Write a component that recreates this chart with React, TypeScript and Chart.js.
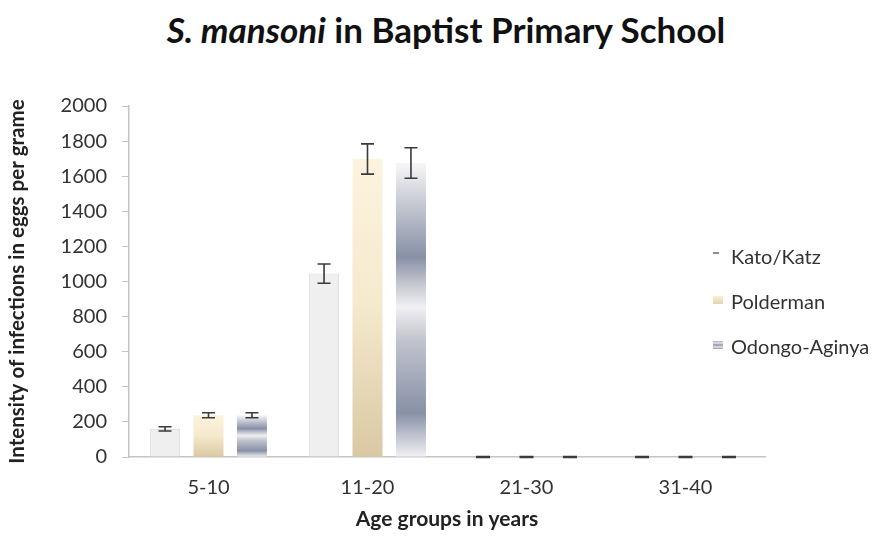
import React, { useEffect, useRef } from "react";
import { Chart, registerables } from "chart.js";

Chart.register(...registerables);

const categories = ["5-10", "11-20", "21-30", "31-40"];
const seriesNames = ["Kato/Katz", "Polderman", "Odongo-Aginya"];
const katoValues = [160, 1045, 0, 0];
const katoErrors = [12, 55, 0, 0];
const poldermanValues = [238, 1698, 0, 0];
const poldermanErrors = [14, 86, 0, 0];
const odongoValues = [238, 1675, 0, 0];
const odongoErrors = [14, 87, 0, 0];
const yTicks = [0, 200, 400, 600, 800, 1000, 1200, 1400, 1600, 1800, 2000];

const FONT = "Lato";
const TEXT = "#333333";

type Stop = [number, string];
const katoStops: Stop[] = [[0, "#efefef"], [1, "#efefef"]];
const poldermanStops: Stop[] = [
  [0, "#fdf3de"],
  [0.5, "#f5e9cd"],
  [1, "#d9c8a2"],
];
const odongoStops: Stop[] = [
  [0, "#f7f7f8"],
  [0.13, "#c9ccd5"],
  [0.32, "#8790a6"],
  [0.41, "#c3c6cf"],
  [0.49, "#f0f0f2"],
  [0.6, "#c2c5ce"],
  [0.85, "#8790a6"],
  [1, "#f2f2f4"],
];

function gradientFill(stops: Stop[], solid: string) {
  return (ctx: any) => {
    if (ctx.type !== "data") return solid;
    const chart = ctx.chart;
    if (!chart.chartArea) return solid;
    const v = ctx.raw as number;
    const y = chart.scales.y;
    const top = y.getPixelForValue(v);
    const bot = y.getPixelForValue(0);
    if (bot - top < 1) return solid;
    const g = chart.ctx.createLinearGradient(0, top, 0, bot);
    stops.forEach(([o, c]) => g.addColorStop(o, c));
    return g;
  };
}

const errorsBySeries = [katoErrors, poldermanErrors, odongoErrors];

const errorBarPlugin = {
  id: "errorBars",
  afterDatasetsDraw(chart: any) {
    const ctx = chart.ctx;
    const y = chart.scales.y;
    ctx.save();
    ctx.strokeStyle = "#3a3a3a";
    ctx.lineWidth = 1.6;
    chart.data.datasets.forEach((ds: any, di: number) => {
      const meta = chart.getDatasetMeta(di);
      meta.data.forEach((bar: any, i: number) => {
        const v = ds.data[i];
        const e = errorsBySeries[di][i];
        const x = bar.x;
        const hi = y.getPixelForValue(v + e);
        const lo = y.getPixelForValue(Math.max(0, v - e));
        const cap = 6.5;
        if (e === 0) {
          ctx.lineWidth = 2.5;
          ctx.beginPath();
          ctx.moveTo(x - 7, hi);
          ctx.lineTo(x + 7, hi);
          ctx.stroke();
          ctx.lineWidth = 1.6;
          return;
        }
        ctx.beginPath();
        ctx.moveTo(x, hi);
        ctx.lineTo(x, lo);
        ctx.moveTo(x - cap, hi);
        ctx.lineTo(x + cap, hi);
        ctx.moveTo(x - cap, lo);
        ctx.lineTo(x + cap, lo);
        ctx.stroke();
      });
    });
    ctx.restore();
  },
};

const legendPlugin = {
  id: "sideLegend",
  afterDraw(chart: any) {
    const ctx = chart.ctx;
    ctx.save();
    ctx.font = `20px ${FONT}`;
    ctx.fillStyle = TEXT;
    ctx.textBaseline = "middle";
    const ys = [258, 303, 348];
    const mx = 713;
    // Kato marker: short dash
    ctx.strokeStyle = "#444";
    ctx.lineWidth = 1.2;
    ctx.beginPath();
    ctx.moveTo(mx, ys[0] - 5);
    ctx.lineTo(mx + 6, ys[0] - 5);
    ctx.stroke();
    // Polderman marker
    const g1 = ctx.createLinearGradient(0, ys[1] - 7, 0, ys[1] + 1);
    g1.addColorStop(0, "#fbf0d6");
    g1.addColorStop(1, "#e3d4b0");
    ctx.fillStyle = g1;
    ctx.fillRect(mx, ys[1] - 7, 10, 8);
    // Odongo marker
    const g2 = ctx.createLinearGradient(0, ys[2] - 7, 0, ys[2] + 1);
    g2.addColorStop(0, "#a7adbd");
    g2.addColorStop(0.25, "#e6e7eb");
    g2.addColorStop(0.5, "#8d95a9");
    g2.addColorStop(0.75, "#e6e7eb");
    g2.addColorStop(1, "#8d95a9");
    ctx.fillStyle = g2;
    ctx.fillRect(mx, ys[2] - 7, 10, 8);
    ctx.fillStyle = TEXT;
    seriesNames.forEach((n, i) => ctx.fillText(n, 731, ys[i]));
    ctx.restore();
  },
};

export default function App() {
  const ref = useRef<HTMLCanvasElement | null>(null);
  useEffect(() => {
    if (!ref.current) return;
    const chart = new Chart(ref.current, {
      type: "bar",
      data: {
        labels: categories,
        datasets: [
          {
            label: seriesNames[0],
            data: katoValues,
            backgroundColor: gradientFill(katoStops, "#efefef"),
            borderColor: "#e0e0e0",
            borderWidth: 1,
            categoryPercentage: 0.82,
            barPercentage: 0.69,
          },
          {
            label: seriesNames[1],
            data: poldermanValues,
            backgroundColor: gradientFill(poldermanStops, "#f5e9cd"),
            borderWidth: 0,
            categoryPercentage: 0.82,
            barPercentage: 0.69,
          },
          {
            label: seriesNames[2],
            data: odongoValues,
            backgroundColor: gradientFill(odongoStops, "#c3c6cf"),
            borderWidth: 0,
            categoryPercentage: 0.82,
            barPercentage: 0.69,
          },
        ],
      },
      options: {
        responsive: false,
        animation: false,
        layout: { padding: { left: 5, right: 113, top: 106, bottom: 6 } },
        plugins: {
          legend: { display: false },
          tooltip: { enabled: false },
          title: { display: false },
        },
        scales: {
          x: {
            grid: { display: false, drawTicks: false },
            border: { display: true, color: "#c4c4c4", width: 1.5 },
            ticks: {
              color: TEXT,
              font: { family: FONT, size: 20 },
              padding: 19,
            },
            title: {
              display: true,
              text: "Age groups in years",
              color: "#222",
              font: { family: FONT, size: 21, weight: "bold" },
              padding: { top: 8, bottom: 0 },
            },
            afterFit: (s: any) => {
              s.height = 75;
            },
          },
          y: {
            min: 0,
            max: 2000,
            afterBuildTicks: (s: any) => {
              s.ticks = yTicks.map((v) => ({ value: v }));
            },
            grid: {
              drawOnChartArea: false,
              drawTicks: true,
              tickLength: 7,
              color: "#c4c4c4",
            },
            border: { display: true, color: "#c4c4c4", width: 1.5 },
            ticks: {
              color: TEXT,
              font: { family: FONT, size: 20 },
              padding: 15,
              callback: (v: any) => String(v),
            },
            title: {
              display: true,
              text: "Intensity of infections in eggs per grame",
              color: "#222",
              font: { family: FONT, size: 20.5, weight: "bold" },
              padding: { top: 0, bottom: 4 },
            },
            afterFit: (s: any) => {
              s.width = 124;
            },
          },
        },
      },
      plugins: [errorBarPlugin, legendPlugin],
    });
    return () => chart.destroy();
  }, []);

  return (
    <div style={{ position: "absolute", left: 0, top: 0, width: 878, height: 538, background: "#fff" }}>
      <div
        style={{
          position: "absolute",
          left: 0,
          top: 9,
          width: 878,
          textAlign: "center",
          fontFamily: FONT,
          fontWeight: "bold",
          fontSize: 35,
          lineHeight: "40px",
          color: "#111",
          paddingLeft: 14,
          boxSizing: "border-box",
        }}
      >
        <i>S. mansoni</i> in Baptist Primary School
      </div>
      <canvas ref={ref} width={878} height={538} style={{ position: "absolute", left: 0, top: 0 }} />
    </div>
  );
}
